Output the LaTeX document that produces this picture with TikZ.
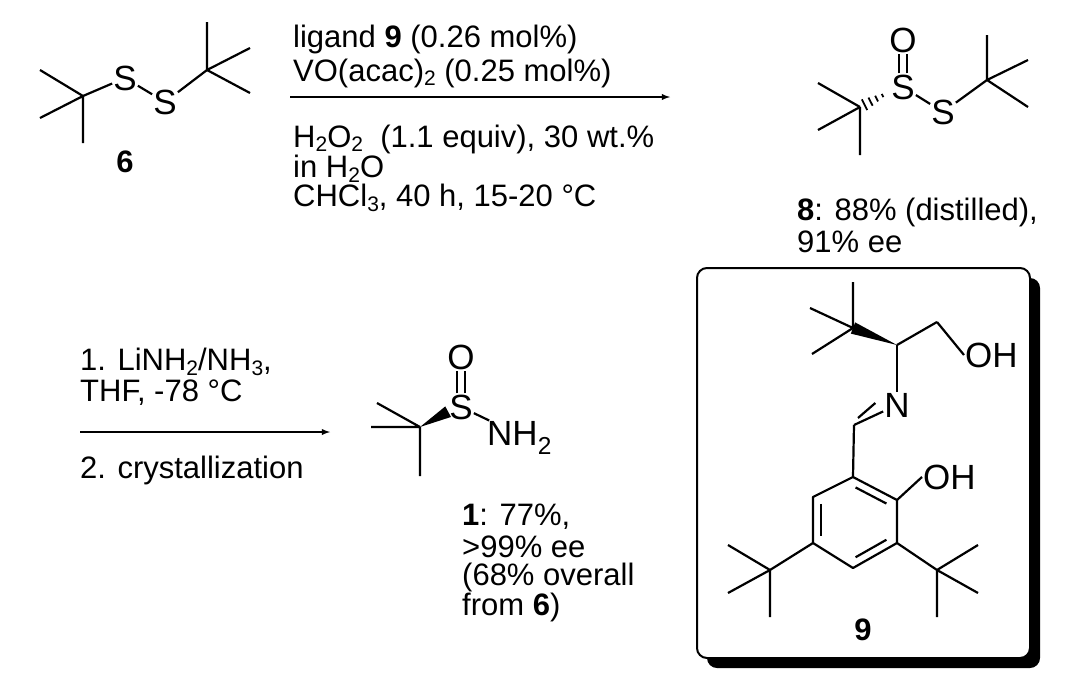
\documentclass[tikz,border=0pt]{standalone}
\usepackage{fontspec}
\setmainfont{Liberation Sans}
\usepackage{tikz}
\usetikzlibrary{arrows,calc,positioning}
\tikzset{
  atom/.style={inner sep=1pt, font=\fontsize{35}{38}\selectfont},
  txt/.style={anchor=west, inner sep=0pt, font=\fontsize{31}{34}\selectfont},
  bond/.style={line width=2.2pt},
}
\newcommand{\chemsub}[1]{\raisebox{-0.16em}{\fontsize{21}{21}\selectfont #1}}
\newcommand{\wedgebond}[2]{\fill (#1) -- ($(#2)!6pt!90:(#1)$) -- ($(#2)!6pt!-90:(#1)$) -- cycle;}
\newcommand{\hashbond}[2]{\foreach \t/\w in {0.15/6,0.35/4.6,0.55/3.2,0.75/1.8}
  {\draw[line width=1.8pt] ($(#1)!\t!(#2)!\w pt!90:(#2)$) -- ($(#1)!\t!(#2)!\w pt!-90:(#2)$);}}
\begin{document}
\begin{tikzpicture}[x=1pt,y=-1pt]
    \useasboundingbox (0,0) rectangle (1080,694);

    % disulfide 6
    \coordinate (A) at (83,96);
    \coordinate (B) at (207,70);
    \node[atom] (S1) at (125,78) {S};
    \node[atom] (S2) at (165,102) {S};
    \draw[bond] (A) -- (40,70) (A) -- (40,118) (A) -- (83,143);
    \draw[bond] (B) -- (207,22) (B) -- (250,48) (B) -- (250,93);
    \draw[bond] (A) -- (S1);
    \draw[bond] (S1) -- (S2);
    \draw[bond] (S2) -- (B);
    \node[atom, font=\fontsize{31}{34}\selectfont\bfseries] (L6) at (125,162) {6};

    % first step
    \coordinate (R1) at (290,97);
    \coordinate (P1) at (670,97);
    \draw[->,>=latex, line width=1.8pt] (R1) -- (P1);
    \node[txt] (c1) at (293,39) {ligand \textbf{9} (0.26 mol\%)};
    \node[txt] (c2) at (293,73) {VO(acac)\chemsub{2} (0.25 mol\%)};
    \node[txt] (c3) at (293,139) {H\chemsub{2}O\chemsub{2}\ \ (1.1 equiv), 30 wt.\%};
    \node[txt] (c4) at (293,169) {in H\chemsub{2}O};
    \node[txt] (c5) at (293,198) {CHCl\chemsub{3}, 40 h, 15-20 °C};

    % thiosulfinate 8
    \coordinate (C) at (860,107);
    \coordinate (D) at (987,80);
    \node[atom] (S3) at (903,87) {S};
    \node[atom] (O1) at (903,40) {O};
    \node[atom] (S4) at (943,112) {S};
    \draw[bond] (C) -- (818,83) (C) -- (818,130) (C) -- (860,155);
    \draw[bond] (D) -- (987,35) (D) -- (1028,60) (D) -- (1028,107);
    \hashbond{C}{S3.200}
    \draw[bond] ([xshift=-4pt]S3.north) -- ([xshift=-4pt]O1.south);
    \draw[bond] ([xshift=4pt]S3.north) -- ([xshift=4pt]O1.south);
    \draw[bond] (S3) -- (S4);
    \draw[bond] (S4) -- (D);
    \node[txt] (L8a) at (797,212) {\textbf{8}: 88\% (distilled),};
    \node[txt] (L8b) at (797,242) {91\% ee};

    % second step
    \coordinate (R2) at (80,432);
    \coordinate (P2) at (330,432);
    \draw[->,>=latex, line width=1.8pt] (R2) -- (P2);
    \node[txt] (d1) at (80,362) {1. LiNH\chemsub{2}/NH\chemsub{3},};
    \node[txt] (d2) at (80,393) {THF, -78 °C};
    \node[txt] (d3) at (80,470) {2. crystallization};

    % sulfinamide 1
    \coordinate (E) at (420,427);
    \node[atom] (S5) at (461,407) {S};
    \node[atom] (O2) at (461,357) {O};
    \node[atom, anchor=west] (N1) at (486,438) {NH\textsubscript{2}};
    \draw[bond] (E) -- (377,403) (E) -- (371,427) (E) -- (420,476);
    \wedgebond{E}{S5.200}
    \draw[bond] ([xshift=-4pt]S5.north) -- ([xshift=-4pt]O2.south);
    \draw[bond] ([xshift=4pt]S5.north) -- ([xshift=4pt]O2.south);
    \draw[bond] (S5) -- (N1.150);
    \node[txt] (L1a) at (462,517) {\textbf{1}: 77\%,};
    \node[txt] (L1b) at (462,547) {>99\% ee};
    \node[txt] (L1c) at (462,577) {(68\% overall};
    \node[txt] (L1d) at (462,607) {from \textbf{6})};

    % ligand 9 box
    \fill[rounded corners=10pt] (707,278) rectangle (1040,668);
    \draw[fill=white, line width=2pt, rounded corners=10pt] (697,268) rectangle (1030,658);
    \coordinate (F) at (853,328);
    \coordinate (G) at (897,345);
    \coordinate (H) at (937,322);
    \coordinate (I) at (854,425);
    \node[atom, anchor=west] (O3) at (964,355) {OH};
    \node[atom] (N2) at (897,405) {N};
    \node[atom, anchor=west] (O4) at (922,477) {OH};
    \coordinate (r1) at (853,477);
    \coordinate (r2) at (897,500);
    \coordinate (r3) at (897,543);
    \coordinate (r4) at (853,568);
    \coordinate (r5) at (813,543);
    \coordinate (r6) at (813,497);
    \coordinate (T1) at (937,570);
    \coordinate (T2) at (770,570);
    \draw[bond] (F) -- (853,282) (F) -- (810,308) (F) -- (812,354);
    \wedgebond{G}{F}
    \draw[bond] (G) -- (H);
    \draw[bond] (H) -- (O3.west);
    \draw[bond] (G) -- (N2);
    \draw[bond] (N2) -- (I);
    \draw[bond] ($(N2.west)!0.2!(I)+(-2,-6)$) -- ($(I)+(4,-7)$);
    \draw[bond] (I) -- (r1);
    \draw[bond, line join=round] (r1) -- (r2) -- (r3) -- (r4) -- (r5) -- (r6) -- cycle;
    \draw[bond] ($(r6)!0.15!(r5)+(8,0)$) -- ($(r6)!0.85!(r5)+(8,0)$);
    \draw[bond] ($(r1)!0.15!(r2)+(-4,7)$) -- ($(r1)!0.85!(r2)+(-4,7)$);
    \draw[bond] ($(r3)!0.15!(r4)+(-4,-7)$) -- ($(r3)!0.85!(r4)+(-4,-7)$);
    \draw[bond] (r2) -- (O4.west);
    \draw[bond] (r3) -- (T1);
    \draw[bond] (r5) -- (T2);
    \draw[bond] (T1) -- (978,545) (T1) -- (978,593) (T1) -- (937,617);
    \draw[bond] (T2) -- (728,545) (T2) -- (728,593) (T2) -- (770,617);
    \node[atom, font=\fontsize{31}{34}\selectfont\bfseries] (L9) at (863,630) {9};
\end{tikzpicture}
\end{document}
